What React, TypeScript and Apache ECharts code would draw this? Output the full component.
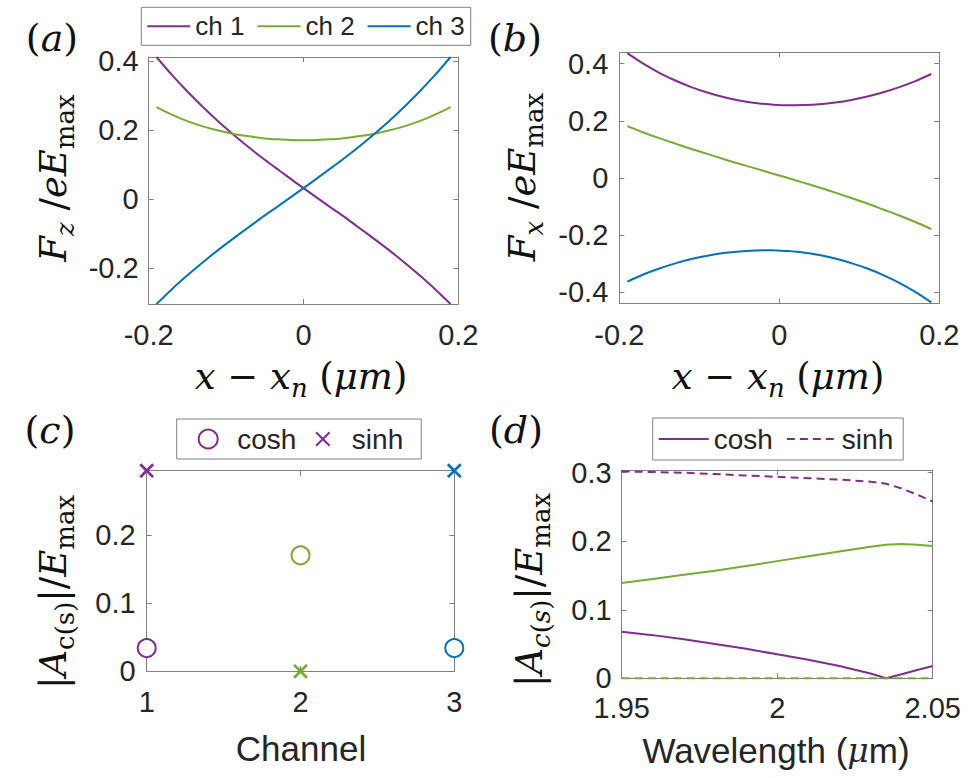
import React, { useEffect, useRef } from "react";
import * as echarts from "echarts";

// ---------- data ----------
const xPos = [
  -0.19, -0.17, -0.15, -0.13, -0.11, -0.09, -0.07, -0.05, -0.03, -0.01,
  0.01, 0.03, 0.05, 0.07, 0.09, 0.11, 0.13, 0.15, 0.17, 0.19,
];
const aCh1 = [
  0.412, 0.36, 0.312, 0.267, 0.225, 0.186, 0.149, 0.114, 0.081, 0.048,
  0.016, -0.016, -0.047, -0.08, -0.113, -0.147, -0.183, -0.221, -0.261, -0.304,
];
const aCh2 = [
  0.267, 0.245, 0.226, 0.211, 0.199, 0.189, 0.182, 0.176, 0.173, 0.171,
  0.171, 0.173, 0.176, 0.182, 0.189, 0.199, 0.211, 0.226, 0.245, 0.267,
];
const aCh3 = [
  -0.304, -0.261, -0.221, -0.183, -0.147, -0.113, -0.08, -0.047, -0.016, 0.016,
  0.048, 0.081, 0.114, 0.149, 0.186, 0.225, 0.267, 0.312, 0.36, 0.412,
];
const bCh1 = [
  0.437, 0.4, 0.368, 0.341, 0.318, 0.299, 0.283, 0.271, 0.262, 0.257,
  0.254, 0.255, 0.258, 0.264, 0.273, 0.285, 0.3, 0.318, 0.339, 0.364,
];
const bCh2 = [
  0.181, 0.159, 0.139, 0.12, 0.101, 0.084, 0.066, 0.049, 0.033, 0.016,
  0.0, -0.017, -0.034, -0.052, -0.071, -0.09, -0.111, -0.132, -0.155, -0.18,
];
const bCh3 = [
  -0.364, -0.339, -0.318, -0.3, -0.285, -0.273, -0.264, -0.258, -0.255, -0.254,
  -0.257, -0.262, -0.271, -0.283, -0.299, -0.318, -0.341, -0.368, -0.4, -0.437,
];

const channels = [1, 2, 3];
const coshC = [0.034, 0.17, 0.034];
const sinhC = [0.294, 0, 0.294];

const wavelengths = [1.95, 1.96, 1.97, 1.98, 1.99, 2.0, 2.01, 2.02, 2.03, 2.035, 2.04, 2.045, 2.05];
const dCosh1 = [0.068, 0.063, 0.057, 0.05, 0.043, 0.035, 0.027, 0.018, 0.007, 0.0, 0.006, 0.012, 0.018];
const dSinh1 = [0.302, 0.301, 0.3, 0.298, 0.296, 0.294, 0.292, 0.29, 0.287, 0.284, 0.277, 0.268, 0.258];
const dCosh2 = [0.139, 0.145, 0.151, 0.157, 0.164, 0.171, 0.178, 0.185, 0.192, 0.195, 0.196, 0.195, 0.193];
const dSinh2 = [0, 0, 0, 0, 0, 0, 0, 0, 0, 0, 0, 0, 0];

const ticksAX = [-0.2, 0, 0.2];
const ticksAY = [-0.2, 0, 0.2, 0.4];
const ticksBY = [-0.4, -0.2, 0, 0.2, 0.4];
const ticksCX = [1, 2, 3];
const ticksCY = [0, 0.1, 0.2];
const ticksDX = [1.95, 2, 2.05];
const ticksDY = [0, 0.1, 0.2, 0.3];

// ---------- style ----------
const PURPLE = "#7E2F8E";
const GREEN = "#77AC30";
const BLUE = "#0072BD";
const chColors = [PURPLE, GREEN, BLUE];
const SANS = "'Liberation Sans', Arial, sans-serif";
const MATH = "'DejaVu Serif', serif";
const AX_COLOR = "#808080";
const TXT = "#262626";
const X_PATH = "path://M-4,-4M24,24M0,0L20,20M20,0L0,20";

const fmt = (v: number) => String(v);

function xAxes(grid: number, min: number, max: number, ticks: number[], margin: number) {
  const line = { show: true, onZero: false, lineStyle: { color: AX_COLOR, width: 1 } };
  const tick = { show: true, inside: true, length: 5, customValues: ticks, lineStyle: { color: AX_COLOR, width: 1 } };
  return [
    {
      type: "value", gridIndex: grid, min, max, position: "bottom",
      axisLine: line, axisTick: tick,
      axisLabel: { show: true, customValues: ticks, margin, fontSize: 29, fontFamily: SANS, color: TXT, formatter: fmt },
      splitLine: { show: false },
    },
    {
      type: "value", gridIndex: grid, min, max, position: "top",
      axisLine: line, axisTick: tick, axisLabel: { show: false }, splitLine: { show: false },
    },
  ];
}

function yAxes(grid: number, min: number, max: number, ticks: number[], margin: number) {
  const line = { show: true, onZero: false, lineStyle: { color: AX_COLOR, width: 1 } };
  const tick = { show: true, inside: true, length: 5, customValues: ticks, lineStyle: { color: AX_COLOR, width: 1 } };
  return [
    {
      type: "value", gridIndex: grid, min, max, position: "left",
      axisLine: line, axisTick: tick,
      axisLabel: { show: true, customValues: ticks, margin, fontSize: 29, fontFamily: SANS, color: TXT, formatter: fmt },
      splitLine: { show: false },
    },
    {
      type: "value", gridIndex: grid, min, max, position: "right",
      axisLine: line, axisTick: tick, axisLabel: { show: false }, splitLine: { show: false },
    },
  ];
}

const mathRich = {
  i: { fontFamily: MATH, fontStyle: "italic", fontSize: 37, lineHeight: 50, fill: "#111" },
  r: { fontFamily: MATH, fontSize: 37, lineHeight: 50, fill: "#111" },
  si: { fontFamily: MATH, fontStyle: "italic", fontSize: 26, lineHeight: 26, verticalAlign: "bottom", fill: "#111" },
  sr: { fontFamily: MATH, fontSize: 26, lineHeight: 26, verticalAlign: "bottom", fill: "#111" },
};
const panelRich = {
  i: { fontFamily: MATH, fontStyle: "italic", fontSize: 38, fill: "#111" },
  r: { fontFamily: MATH, fontSize: 38, fill: "#111" },
};
const sansRich = {
  s: { fontFamily: SANS, fontSize: 35, fill: TXT },
  mu: { fontFamily: MATH, fontStyle: "italic", fontSize: 33, fill: TXT },
};

function txt(x: number, y: number, text: string, rich: any, rotate = false) {
  return {
    type: "text", x, y, rotation: rotate ? Math.PI / 2 : 0,
    style: { text, rich, align: "center", verticalAlign: "middle" },
  };
}

function lineSeries(name: string, xi: number, xs: number[], ys: number[], color: string, smooth: boolean | number, dashed = false) {
  return {
    type: "line", name, xAxisIndex: xi, yAxisIndex: xi, smooth,
    data: xs.map((x, i) => [x, ys[i]]),
    symbol: "none", clip: false,
    lineStyle: { color, width: 2, type: dashed ? [8, 5] : "solid" },
    itemStyle: { color },
  };
}

const hiddenSymbol = { color: "rgba(0,0,0,0)", borderColor: "rgba(0,0,0,0)", borderWidth: 0, opacity: 0 };

export default function App() {
  const ref = useRef<HTMLDivElement>(null);
  useEffect(() => {
    if (!ref.current) return;
    const chart = echarts.init(ref.current, null, { renderer: "svg" });
    const option: any = {
      animation: false,
      backgroundColor: "#fff",
      grid: [
        { left: 148.7, top: 57, width: 309.6, height: 247 },
        { left: 619.3, top: 52.3, width: 320, height: 251 },
        { left: 146.7, top: 470.7, width: 307.6, height: 200.6 },
        { left: 621.7, top: 470, width: 311, height: 208.3 },
      ],
      xAxis: [
        ...xAxes(0, -0.2, 0.2, ticksAX, 16),
        ...xAxes(1, -0.2, 0.2, ticksAX, 17),
        ...xAxes(2, 1, 3, ticksCX, 16),
        ...xAxes(3, 1.95, 2.05, ticksDX, 15),
      ],
      yAxis: [
        ...yAxes(0, -0.304, 0.412, ticksAY, 10),
        ...yAxes(1, -0.44, 0.44, ticksBY, 11),
        ...yAxes(2, 0, 0.294, ticksCY, 11),
        ...yAxes(3, 0, 0.304, ticksDY, 10),
      ],
      legend: [
        {
          data: ["ch 1", "ch 2", "ch 3"], left: 141.3, top: 7.3, orient: "horizontal",
          itemWidth: 43, itemHeight: 14, itemGap: 12, padding: [6, 6, 6, 5],
          borderColor: AX_COLOR, borderWidth: 1, backgroundColor: "#fff", selectedMode: false,
          itemStyle: hiddenSymbol,
          textStyle: { fontSize: 26, fontFamily: SANS, color: TXT },
        },
        {
          data: [{ name: "c:cosh", icon: "emptyCircle" }, { name: "c:sinh", icon: X_PATH }],
          formatter: (n: string) => n.slice(2),
          left: 176.7, top: 419, orient: "horizontal",
          itemWidth: 48, itemHeight: 19, itemGap: 16, padding: [6, 18, 6, 21],
          borderColor: AX_COLOR, borderWidth: 1, backgroundColor: "#fff", selectedMode: false,
          textStyle: { fontSize: 28, fontFamily: SANS, color: TXT },
        },
        {
          data: ["d:cosh", "d:sinh"],
          formatter: (n: string) => n.slice(2),
          left: 652.7, top: 418, orient: "horizontal",
          itemWidth: 50, itemHeight: 14, itemGap: 13, padding: [7, 10, 7, 5],
          borderColor: AX_COLOR, borderWidth: 1, backgroundColor: "#fff", selectedMode: false,
          itemStyle: hiddenSymbol,
          textStyle: { fontSize: 28, fontFamily: SANS, color: TXT },
        },
      ],
      series: [
        lineSeries("ch 1", 0, xPos, aCh1, PURPLE, 0.3),
        lineSeries("ch 2", 0, xPos, aCh2, GREEN, 0.3),
        lineSeries("ch 3", 0, xPos, aCh3, BLUE, 0.3),
        lineSeries("b1", 2, xPos, bCh1, PURPLE, 0.3),
        lineSeries("b2", 2, xPos, bCh2, GREEN, 0.3),
        lineSeries("b3", 2, xPos, bCh3, BLUE, 0.3),
        {
          type: "scatter", name: "c:cosh", xAxisIndex: 4, yAxisIndex: 4, clip: false,
          symbol: "emptyCircle", symbolSize: 18,
          itemStyle: { color: PURPLE, borderWidth: 3, opacity: 1 },
          data: channels.map((c, i) => ({ value: [c, coshC[i]], itemStyle: { color: chColors[i], opacity: 1 } })),
        },
        {
          type: "scatter", name: "c:sinh", xAxisIndex: 4, yAxisIndex: 4, clip: false,
          symbol: X_PATH, symbolSize: 18,
          itemStyle: { color: PURPLE, borderColor: PURPLE, borderWidth: 2.8, opacity: 1 },
          data: channels.map((c, i) => ({
            value: [c, sinhC[i]],
            itemStyle: { color: chColors[i], borderColor: chColors[i], opacity: 1 },
          })),
        },
        lineSeries("d:cosh", 6, wavelengths, dCosh1, PURPLE, false),
        lineSeries("d:sinh", 6, wavelengths, dSinh1, PURPLE, false, true),
        lineSeries("d2c", 6, wavelengths, dCosh2, GREEN, false),
        lineSeries("d2s", 6, wavelengths, dSinh2, GREEN, false, true),
      ],
      graphic: [
        txt(52, 38, "{r|(}{i|a}{r|)}", panelRich),
        txt(515, 38, "{r|(}{i|b}{r|)}", panelRich),
        txt(50, 430, "{r|(}{i|c}{r|)}", panelRich),
        txt(516, 430, "{r|(}{i|d}{r|)}", panelRich),
        txt(53, 178, "{i|F}{si|z}{r| /}{i|eE}{sr|max}", mathRich, true),
        txt(522, 177, "{i|F}{si|x}{r| /}{i|eE}{sr|max}", mathRich, true),
        txt(53, 592, "{r||}{i|A}{sr|c(s)}{r||/}{i|E}{sr|max}", mathRich, true),
        txt(529, 590, "{r||}{i|A}{si|c}{sr|(}{si|s}{sr|)}{r||/}{i|E}{sr|max}", mathRich, true),
        txt(301, 376, "{i|x}{r| − }{i|x}{si|n}{r| (}{i|μm}{r|)}", mathRich),
        txt(778, 376, "{i|x}{r| − }{i|x}{si|n}{r| (}{i|μm}{r|)}", mathRich),
        txt(301, 748, "{s|Channel}", sansRich),
        txt(776, 750, "{s|Wavelength (}{mu|μ}{s|m)}", sansRich),
      ],
    };
    chart.setOption(option);
    return () => chart.dispose();
  }, []);
  return (
    <div
      ref={ref}
      style={{ position: "absolute", left: 0, top: 0, width: 972, height: 778, background: "#fff" }}
    />
  );
}
